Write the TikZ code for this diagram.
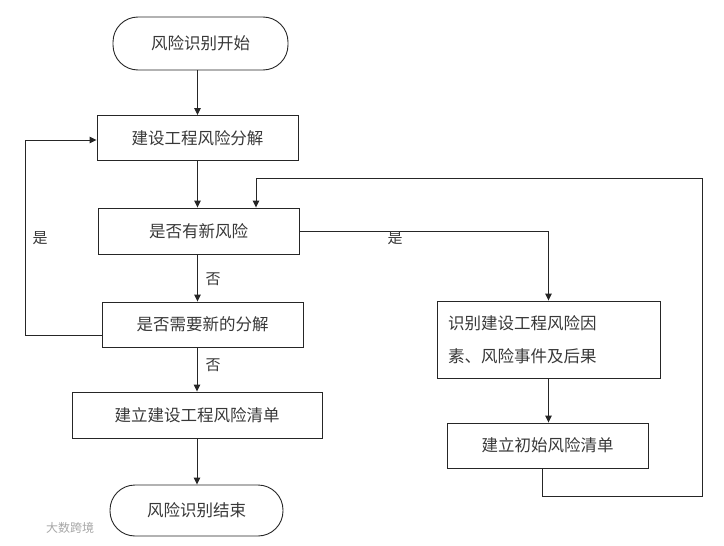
\documentclass[tikz,border=0pt]{standalone}
\usepackage{fontspec}
\setmainfont{Noto Sans CJK SC}
\usetikzlibrary{arrows.meta,calc}
\begin{document}
\begin{tikzpicture}[x=1pt,y=-1pt,
  every node/.style={font=\fontsize{16.5}{20}\selectfont, text=black!78},
  box/.style={draw=black!85, line width=0.9pt, minimum width=201pt, minimum height=45pt, inner sep=0pt},
  term/.style={draw=black!85, line width=0.9pt, rounded corners=25pt, inner sep=0pt},
  conn/.style={draw=black!85, line width=0.9pt},
  arr/.style={conn, -{Triangle[length=7pt,width=6.5pt]}},
  lbl/.style={font=\fontsize{15}{18}\selectfont, inner sep=0pt}
]
\useasboundingbox (0,0) rectangle (724,546);

\node[term, minimum width=175pt, minimum height=53pt] (start) at (200.5,43.5) {风险识别开始};
\node[box] (b1) at (197.5,138) {建设工程风险分解};
\node[box, minimum height=46pt] (b2) at (198.5,231) {是否有新风险};
\node[box] (b3) at (202.5,324.5) {是否需要新的分解};
\node[box, minimum width=250pt, minimum height=46pt] (b4) at (197,415) {建立建设工程风险清单};
\node[term, minimum width=173pt, minimum height=51pt] (end) at (196.5,510.5) {风险识别结束};
\node[box, minimum width=223pt, minimum height=77pt, text width=201pt, align=left,
  font=\fontsize{16.5}{33}\selectfont] (b5) at (548.5,339.5) {识别建设工程风险因\\素、风险事件及后果};
\node[box] (b6) at (547.5,445.5) {建立初始风险清单};

\coordinate (l) at (25,0);
\coordinate (r1) at (702,178);
\coordinate (r2) at (542,496);
\coordinate (t2) at ([xshift=57.5pt]b2.north);

\draw[arr] (start.south -| b1.north) -- (b1.north);
\draw[arr] (b1.south) -- (b1.south |- b2.north);
\draw[arr] (b2.south -| b1.south) -- (b1.south |- b3.north);
\draw[arr] (b4.north |- b3.south) -- (b4.north);
\draw[arr] (b4.south) -- (b4.south |- end.north);
\draw[arr] (b2.east) -| (b5.north);
\draw[arr] (b5.south) -- (b5.south |- b6.north);
\draw[arr] (b6.south -| r2) -- (r2) -| (r1) -| (t2);
\draw[arr] ([yshift=-10.5pt]b3.west) -- ([yshift=-10.5pt]b3.west -| l) |- ([yshift=-2pt]b1.west);

\node[lbl] (y1) at (40,238) {是};
\node[lbl] (y2) at (395,238) {是};
\node[lbl] (n1) at (213,279) {否};
\node[lbl] (n2) at (213,365) {否};

\node[font=\fontsize{12}{14}\selectfont, text=black!35] (wm) at (70,528) {大数跨境};
\end{tikzpicture}
\end{document}
